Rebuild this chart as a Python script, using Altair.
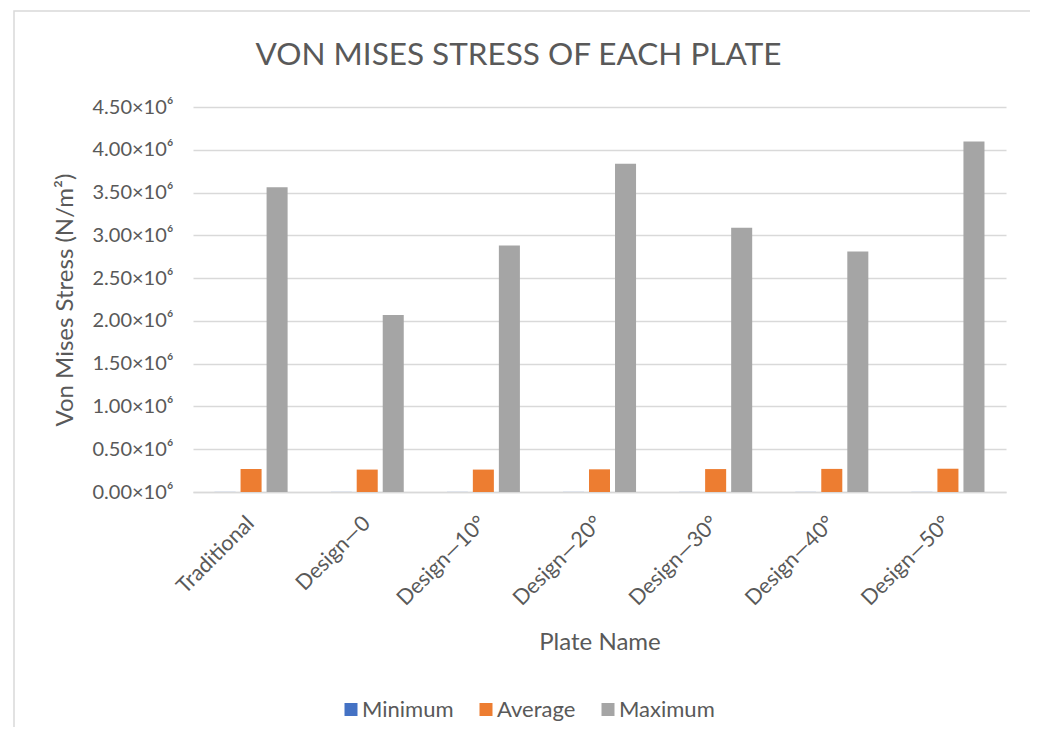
import altair as alt
import pandas as pd

plates = ["Traditional", "Design—0", "Design—10°", "Design—20°", "Design—30°", "Design—40°", "Design—50°"]
series = ["Minimum", "Average", "Maximum"]
minimum = [1000, 1000, 1000, 1000, 1000, 1000, 1000]
average = [268000, 262000, 262000, 265000, 268000, 270000, 272000]
maximum = [3563000, 2070000, 2880000, 3837000, 3090000, 2810000, 4097000]
colors = ["#4472C4", "#ED7D31", "#A5A5A5"]

rows = []
for i, p in enumerate(plates):
    for s, vals in zip(series, [minimum, average, maximum]):
        rows.append({"plate": p, "series": s, "value": vals[i]})
df = pd.DataFrame(rows)

FONT = "Lato"
TXT = "#595959"

bars = alt.Chart(df).mark_bar().encode(
    x=alt.X("plate:N", sort=plates, title="Plate Name",
            scale=alt.Scale(paddingInner=0, paddingOuter=0),
            axis=alt.Axis(labelAngle=-45, labelAlign="right", labelBaseline="middle",
                          labelPadding=28, labelOffset=0, ticks=False, domain=True,
                          domainColor="#d9d9d9", domainWidth=1.5, labelFontSize=21.5,
                          labelColor=TXT, labelFont=FONT,
                          titleFontSize=24, titleColor=TXT, titleFont=FONT, titleFontWeight="normal",
                          titlePadding=21, grid=False)),
    xOffset=alt.XOffset("series:N", sort=series,
                        scale=alt.Scale(paddingInner=0.192, paddingOuter=0.827)),
    y=alt.Y("value:Q", title="Von Mises Stress (N/m²)",
            scale=alt.Scale(domain=[0, 4500000], nice=False),
            axis=alt.Axis(values=[i * 500000 for i in range(10)],
                          labelExpr="format(datum.value/1000000, '.2f') + '×10⁶'",
                          ticks=False, domain=False, grid=True, gridColor="#d9d9d9", gridWidth=1.5,
                          labelFontSize=20, labelColor=TXT, labelFont=FONT, labelPadding=20,
                          titleFontSize=24, titleColor=TXT, titleFont=FONT, titleFontWeight="normal",
                          titlePadding=15)),
    color=alt.Color("series:N", sort=series,
                    scale=alt.Scale(domain=series, range=colors),
                    legend=alt.Legend(title=None, orient="none", direction="horizontal",
                                      legendX=147, legendY=591.5, symbolType="square",
                                      symbolSize=169, symbolStrokeWidth=0, labelFontSize=22,
                                      labelColor=TXT, labelFont=FONT, columnPadding=21,
                                      labelOffset=0)),
)

frame = alt.Chart(alt.Data(values=[{}])).mark_rect(fill=None, stroke="#d9d9d9", strokeWidth=1.5).encode(
    x=alt.value(-179), x2=alt.value(842), y=alt.value(-96), y2=alt.value(700)
)

chart = alt.layer(frame, bars).properties(
    width=813, height=385,
    title=alt.TitleParams("VON MISES STRESS OF EACH PLATE", fontSize=31.5, font=FONT,
                          color=TXT, fontWeight="normal", anchor="middle", dx=-81, offset=-61),
    padding={"left": 185, "top": 99, "right": 24, "bottom": 235},
    autosize=alt.AutoSizeParams(type="none"),
).configure_view(stroke=None)

chart.save("out.html", embed_options={"renderer": "svg", "actions": False})
